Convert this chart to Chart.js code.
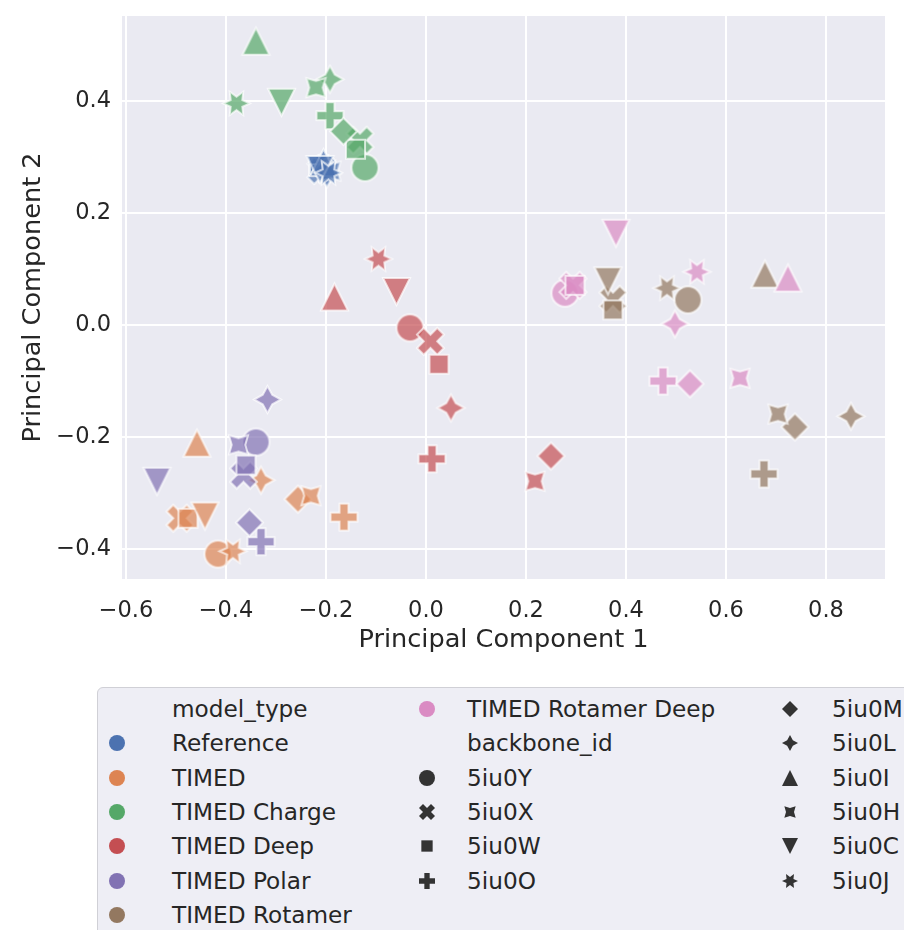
<!DOCTYPE html>
<html>
<head>
<meta charset="utf-8">
<script src="https://cdn.jsdelivr.net/npm/chart.js@4.4.1/dist/chart.umd.min.js"></script>
<style>
	body { margin: 0; background: #ffffff; width: 904px; height: 930px; overflow: hidden; position: relative;
		font-family: "DejaVu Sans", sans-serif; color: #262626; }
	#pca { position: absolute; left: 0; top: 0; }
	#legendBox { position: absolute; left: 97px; top: 687px; width: 860px; height: 280px; box-sizing: border-box;
		border: 1px solid #d0d0d6; border-radius: 6px; background: #eeeef5; }
	.lgText { position: absolute; font-size: 23.2px; line-height: 30px; height: 30px; white-space: nowrap; }
	.lgMark { position: absolute; }
</style>
</head>
<body>
<canvas id="pca" width="904" height="660"></canvas>
<div id="legendBox"></div>
<script>
// backbone ids, in the order every value array below uses
var backboneIds = ["5iu0Y", "5iu0X", "5iu0W", "5iu0O", "5iu0M", "5iu0L", "5iu0I", "5iu0H", "5iu0C", "5iu0J"];
var backboneShapes = ["circle", "xfill", "square", "plusfill", "diamond", "star4", "triUp", "star4rot", "triDown", "star6"];

var modelTypes = ["Reference", "TIMED", "TIMED Charge", "TIMED Deep", "TIMED Polar", "TIMED Rotamer", "TIMED Rotamer Deep"];
var modelColors = ["#4c72b0", "#dd8452", "#55a868", "#c44e52", "#8172b3", "#937860", "#da8bc3"];

// PCA coordinates per model type (null = not shown)
var pc1Reference = [-0.205, -0.21, -0.215, -0.205, -0.2, -0.198, -0.205, -0.19, -0.212, -0.195];
var pc2Reference = [0.281, 0.276, 0.285, 0.279, 0.274, 0.27, 0.29, 0.275, 0.278, 0.272];
var pc1Timed = [-0.416, -0.492, -0.476, -0.164, -0.256, -0.33, -0.458, -0.23, -0.442, -0.386];
var pc2Timed = [-0.409, -0.345, -0.345, -0.343, -0.311, -0.277, -0.211, -0.305, -0.341, -0.404];
var pc1Charge = [-0.122, -0.132, -0.141, -0.192, -0.165, -0.192, -0.34, -0.22, -0.289, -0.379];
var pc2Charge = [0.281, 0.33, 0.314, 0.374, 0.346, 0.439, 0.507, 0.424, 0.398, 0.396];
var pc1Deep = [-0.032, 0.009, 0.026, 0.012, 0.25, 0.05, -0.183, 0.218, -0.059, -0.095];
var pc2Deep = [-0.005, -0.029, -0.07, -0.239, -0.234, -0.148, 0.05, -0.279, 0.06, 0.118];
var pc1Polar = [-0.34, -0.365, -0.36, -0.33, -0.353, -0.317, null, -0.375, -0.538, null];
var pc2Polar = [-0.209, -0.268, -0.25, -0.387, -0.353, -0.133, null, -0.214, -0.279, null];
var pc1Rotamer = [0.524, 0.374, 0.374, 0.676, 0.738, 0.85, 0.678, 0.704, 0.364, 0.482];
var pc2Rotamer = [0.045, 0.046, 0.027, -0.266, -0.182, -0.163, 0.091, -0.159, 0.079, 0.066];
var pc1RotamerDeep = [0.278, 0.294, 0.298, 0.474, 0.528, 0.498, 0.724, 0.628, 0.38, 0.542];
var pc2RotamerDeep = [0.057, 0.071, 0.071, -0.1, -0.105, 0.002, 0.084, -0.095, 0.164, 0.095];

var pc1All = [pc1Reference, pc1Timed, pc1Charge, pc1Deep, pc1Polar, pc1Rotamer, pc1RotamerDeep];
var pc2All = [pc2Reference, pc2Timed, pc2Charge, pc2Deep, pc2Polar, pc2Rotamer, pc2RotamerDeep];

var xTicks = [-0.6, -0.4, -0.2, 0.0, 0.2, 0.4, 0.6, 0.8];
var yTicks = [-0.4, -0.2, 0.0, 0.2, 0.4];

var fontFamily = "'DejaVu Sans', sans-serif";
var textColor = "#262626";

// trace a marker outline centred on 0,0 (matplotlib-style shapes, y up)
function tracePath(ctx, shape, ms) {
	var h = ms / 2;
	function poly(pts, scale) {
		for (var i = 0; i < pts.length; i++) {
			var px = pts[i][0] * scale, py = -pts[i][1] * scale;
			if (i == 0) ctx.moveTo(px, py); else ctx.lineTo(px, py);
		}
	}
	function regular(n, rot, inner) {
		var pts = [];
		var count = inner ? n * 2 : n;
		for (var k = 0; k < count; k++) {
			var a = (inner ? Math.PI * k / n : 2 * Math.PI * k / n) + Math.PI / 2 + rot * Math.PI / 180;
			var r = (inner && k % 2 == 1) ? inner : 1;
			pts.push([r * Math.cos(a), r * Math.sin(a)]);
		}
		poly(pts, h);
	}
	ctx.beginPath();
	switch (shape) {
		case "circle": ctx.arc(0, 0, h, 0, Math.PI * 2); break;
		case "xfill":
			poly([[-1, -2], [0, -1], [1, -2], [2, -1], [1, 0], [2, 1], [1, 2], [0, 1], [-1, 2], [-2, 1], [-1, 0], [-2, -1]], ms / 4);
			break;
		case "plusfill":
			poly([[-1, -3], [1, -3], [1, -1], [3, -1], [3, 1], [1, 1], [1, 3], [-1, 3], [-1, 1], [-3, 1], [-3, -1], [-1, -1]], ms / 6);
			break;
		case "square": regular(4, 45); break;
		case "diamond": regular(4, 0); break;
		case "star4": regular(4, 0, 0.5); break;
		case "star4rot": regular(4, 45, 0.5); break;
		case "star6": regular(6, 30, 0.5); break;
		case "triUp": poly([[0, 1], [-1, -1], [1, -1]], h); break;
		case "triDown": poly([[0, -1], [-1, 1], [1, 1]], h); break;
	}
	ctx.closePath();
}

function makeMarker(shape, color, ms, alpha, edge) {
	var size = Math.ceil(ms + 8);
	var c = document.createElement("canvas");
	c.width = size; c.height = size;
	var ctx = c.getContext("2d");
	ctx.translate(size / 2, size / 2);
	tracePath(ctx, shape, ms);
	ctx.globalAlpha = alpha;
	ctx.fillStyle = color;
	ctx.fill();
	if (edge) {
		ctx.lineWidth = edge;
		ctx.lineJoin = "miter";
		ctx.strokeStyle = "#ffffff";
		ctx.stroke();
	}
	return c;
}

var datasets = [];
for (var m = 0; m < modelTypes.length; m++) {
	var pts = [], styles = [];
	for (var b = 0; b < backboneIds.length; b++) {
		if (pc1All[m][b] === null) continue;
		pts.push({x: pc1All[m][b], y: pc2All[m][b]});
		styles.push(makeMarker(backboneShapes[b], modelColors[m], 27, 0.7, 2));
	}
	datasets.push({
		label: modelTypes[m],
		data: pts,
		pointStyle: styles,
		pointRadius: 13,
		order: modelTypes.length - m // later model types sit on top
	});
}

function tickText(v) {
	return (v < 0 ? "\u2212" : "") + Math.abs(v).toFixed(1);
}

var plotBackground = {
	id: "plotBackground",
	beforeDraw: function(chart) {
		var a = chart.chartArea, ctx = chart.ctx;
		ctx.save();
		ctx.fillStyle = "#eaeaf2";
		ctx.fillRect(a.left, a.top, a.right - a.left, a.bottom - a.top);
		ctx.restore();
	}
};

new Chart(document.getElementById("pca").getContext("2d"), {
	type: "scatter",
	data: {datasets: datasets},
	options: {
		responsive: false,
		animation: false,
		layout: {padding: {top: 16, right: 19, left: 14, bottom: 0}},
		plugins: {legend: {display: false}, tooltip: {enabled: false}},
		scales: {
			x: {
				type: "linear", min: -0.608, max: 0.918,
				afterBuildTicks: function(s) { s.ticks = xTicks.map(function(v) { return {value: v}; }); },
				afterFit: function(s) { s.height = 81; s.paddingLeft = 0; s.paddingRight = 0; },
				grid: {color: "#ffffff", lineWidth: 2, drawTicks: false},
				border: {display: false},
				ticks: {font: {family: fontFamily, size: 22.5}, color: textColor, padding: 19, maxRotation: 0,
					callback: function(v) { return tickText(v); }},
				title: {display: true, text: "Principal Component 1", color: textColor,
					font: {family: fontFamily, size: 25.6}, padding: {top: 0, bottom: 4}}
			},
			y: {
				type: "linear", min: -0.4536, max: 0.552,
				afterBuildTicks: function(s) { s.ticks = yTicks.map(function(v) { return {value: v}; }); },
				afterFit: function(s) { s.width = 108; s.paddingTop = 0; s.paddingBottom = 0; },
				grid: {color: "#ffffff", lineWidth: 2, drawTicks: false},
				border: {display: false},
				ticks: {font: {family: fontFamily, size: 22.5}, color: textColor, padding: 11,
					callback: function(v) { return tickText(v); }},
				title: {display: true, text: "Principal Component 2", color: textColor,
					font: {family: fontFamily, size: 25.6}, padding: {top: 4, bottom: 0}}
			}
		}
	},
	plugins: [plotBackground]
});

// legend below the plot: three columns, headings have no marker
var legendCols = [
	[{text: "model_type"}].concat(modelTypes.slice(0, 6).map(function(t, i) { return {text: t, color: modelColors[i]}; })),
	[{text: modelTypes[6], color: modelColors[6]}, {text: "backbone_id"}].concat(
		backboneIds.slice(0, 4).map(function(t, i) { return {text: t, shape: backboneShapes[i]}; })),
	backboneIds.slice(4).map(function(t, i) { return {text: t, shape: backboneShapes[i + 4]}; })
];
var markX = [117, 427, 790], textX = [172, 467, 832];
var rowY0 = 709, rowStep = 34.3;

legendCols.forEach(function(col, c) {
	col.forEach(function(item, r) {
		var cy = rowY0 + r * rowStep;
		var label = document.createElement("div");
		label.className = "lgText";
		label.textContent = item.text;
		label.style.left = textX[c] + "px";
		label.style.top = (cy - 15) + "px";
		document.body.appendChild(label);
		if (item.color || item.shape) {
			var mk = item.color ? makeMarker("circle", item.color, 16, 1, 0) : makeMarker(item.shape, "#333333", 16, 1, 0);
			mk.className = "lgMark";
			mk.style.left = (markX[c] - mk.width / 2) + "px";
			mk.style.top = (cy - mk.height / 2) + "px";
			document.body.appendChild(mk);
		}
	});
});
</script>
</body>
</html>
